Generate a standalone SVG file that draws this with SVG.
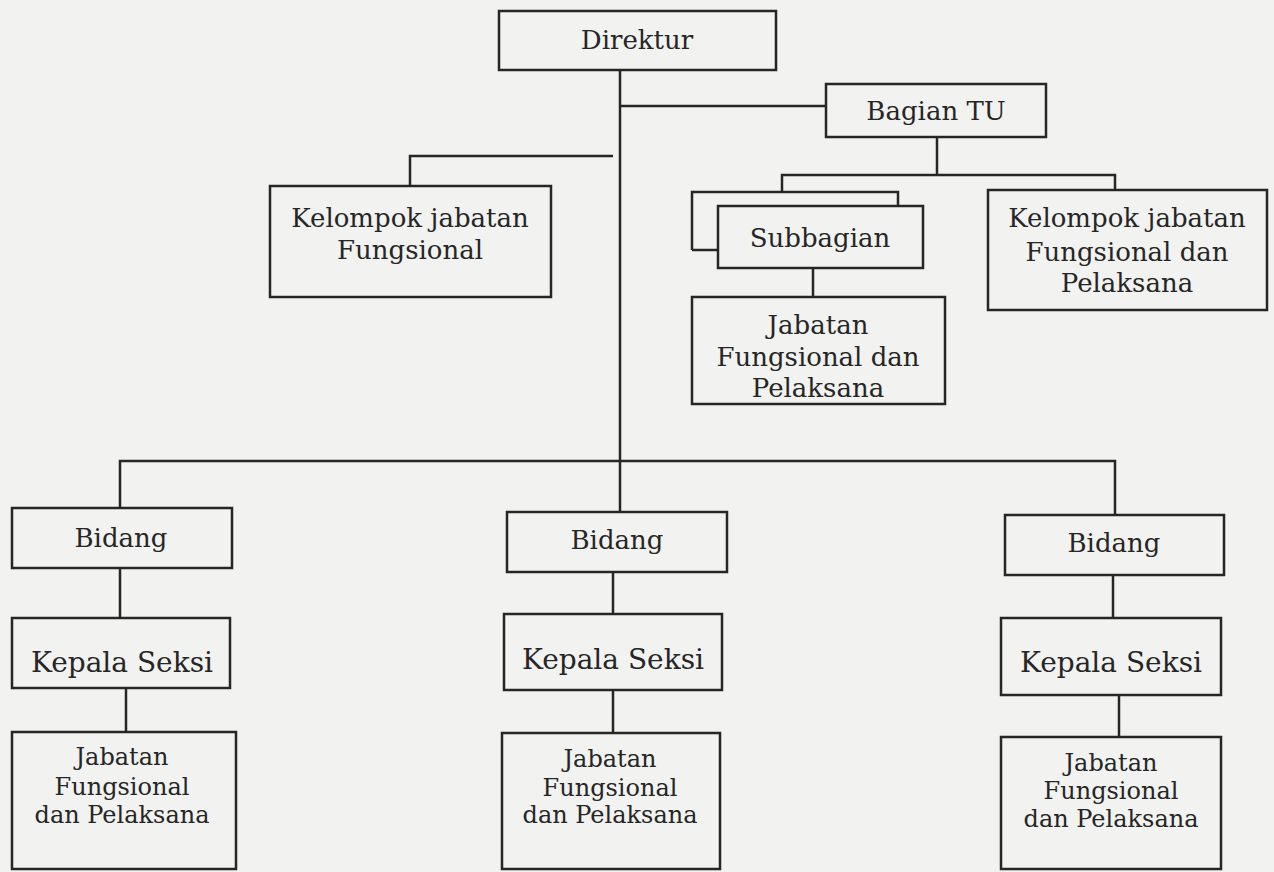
<svg xmlns="http://www.w3.org/2000/svg" width="1274" height="872" viewBox="0 0 1274 872">
<style>
.bx{fill:none;stroke:#262626;stroke-width:2.5}
.ln{fill:none;stroke:#262626;stroke-width:2.5}
.t{font-family:"DejaVu Serif","Liberation Serif",serif;font-size:26px;fill:#262626;text-anchor:middle}
.k{font-family:"DejaVu Serif","Liberation Serif",serif;font-size:28px;fill:#262626;text-anchor:middle}
.s{font-family:"DejaVu Serif","Liberation Serif",serif;font-size:24px;fill:#262626;text-anchor:middle}
</style>
<rect width="1274" height="872" fill="#f2f2f0"/>
<g id="connectors">
<path class="ln" d="M620 70V512"/>
<path class="ln" d="M620 106H826"/>
<path class="ln" d="M613 156H410V186"/>
<path class="ln" d="M937 137V175"/>
<path class="ln" d="M782 192V175H1115V190"/>
<path class="ln" d="M813 268V297"/>
<path class="ln" d="M120 508V461H1115V515"/>
<path class="ln" d="M120 568V618"/>
<path class="ln" d="M126 688V732"/>
<path class="ln" d="M613 572V614"/>
<path class="ln" d="M613 690V733"/>
<path class="ln" d="M1113 575V618"/>
<path class="ln" d="M1119 695V737"/>
</g>
<g id="direktur"><rect class="bx" x="499" y="11" width="277" height="59"/><text class="t" x="637" y="49">Direktur</text></g>
<g id="bagian-tu"><rect class="bx" x="826" y="84" width="220" height="53"/><text class="t" x="936" y="120">Bagian TU</text></g>
<g id="kelompok-fungsional"><rect class="bx" x="270" y="186" width="281" height="111"/><text class="t" x="410" y="227">Kelompok jabatan</text><text class="t" x="410" y="259">Fungsional</text></g>
<g id="subbagian"><path class="bx" d="M692 250V192H898V206"/><path class="bx" d="M692 250H718"/><rect class="bx" x="718" y="206" width="205" height="62"/><text class="t" x="820" y="247">Subbagian</text></g>
<g id="jabatan-tu"><rect class="bx" x="692" y="297" width="253" height="107"/><text class="t" x="818" y="334">Jabatan</text><text class="t" x="818" y="366">Fungsional dan</text><text class="t" x="818" y="397">Pelaksana</text></g>
<g id="kelompok-pelaksana"><rect class="bx" x="988" y="190" width="279" height="120"/><text class="t" x="1127" y="227">Kelompok jabatan</text><text class="t" x="1127" y="261">Fungsional dan</text><text class="t" x="1127" y="292">Pelaksana</text></g>
<g id="bidang-1"><rect class="bx" x="12" y="508" width="220" height="60"/><text class="t" x="121" y="547">Bidang</text></g>
<g id="bidang-2"><rect class="bx" x="507" y="512" width="220" height="60"/><text class="t" x="617" y="549">Bidang</text></g>
<g id="bidang-3"><rect class="bx" x="1005" y="515" width="219" height="60"/><text class="t" x="1114" y="552">Bidang</text></g>
<g id="kasi-1"><rect class="bx" x="12" y="618" width="218" height="70"/><text class="k" x="122" y="672">Kepala Seksi</text></g>
<g id="kasi-2"><rect class="bx" x="504" y="614" width="218" height="76"/><text class="k" x="613" y="669">Kepala Seksi</text></g>
<g id="kasi-3"><rect class="bx" x="1001" y="618" width="220" height="77"/><text class="k" x="1111" y="672">Kepala Seksi</text></g>
<g id="jabatan-1"><rect class="bx" x="12" y="732" width="224" height="137"/><text class="s" x="122" y="765">Jabatan</text><text class="s" x="122" y="795">Fungsional</text><text class="s" x="122" y="823">dan Pelaksana</text></g>
<g id="jabatan-2"><rect class="bx" x="502" y="733" width="218" height="136"/><text class="s" x="610" y="767">Jabatan</text><text class="s" x="610" y="796">Fungsional</text><text class="s" x="610" y="823">dan Pelaksana</text></g>
<g id="jabatan-3"><rect class="bx" x="1001" y="737" width="220" height="132"/><text class="s" x="1111" y="771">Jabatan</text><text class="s" x="1111" y="799">Fungsional</text><text class="s" x="1111" y="827">dan Pelaksana</text></g>
</svg>
